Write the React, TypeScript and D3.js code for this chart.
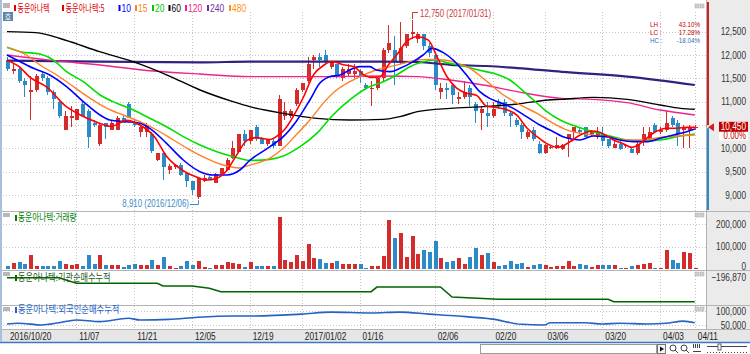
import React from "react";
import * as d3 from "d3";

// date axis ticks (index into the daily series)
const tickIdx = [0, 12, 22, 32, 42, 51, 61, 74, 84, 93, 103, 113, 119];
const tickLabels = ["2016/10/20", "11/07", "11/21", "12/05", "12/19", "2017/01/02", "01/16", "02/06", "02/20", "03/06", "03/20", "04/03", "04/11"];

// daily OHLC, 2016/10/20 .. 2017/04/11
const opens = [
  11900, 11650, 11700, 11450, 11200, 11250, 11600, 11500, 11200, 11000,
  10400, 10650, 10600, 10950, 10800, 10550, 10100, 10550, 10400, 10400,
  10650, 10950, 10550, 10350, 10350, 10300, 9750, 9890, 9540, 9590,
  9640, 9480, 9290, 8960, 9290, 9380, 9260, 9460, 9540, 9790,
  9930, 10300, 10150, 10450, 10200, 10100, 10150, 10050, 10700, 10700,
  10950, 11250, 11450, 11900, 11950, 12000, 11750, 11800, 11500, 11600,
  11600, 11650, 11350, 11300, 11300, 11500, 12100, 12100, 11850, 12200,
  12450, 12350, 12450, 12200, 12000, 11200, 11300, 11350, 11050, 11100,
  11300, 10950, 10750, 10750, 10700, 11000, 11000, 10750, 10600, 10500,
  10250, 10400, 10100, 9890, 10000, 10000, 9980, 10200, 10350, 10400,
  10450, 10300, 10250, 10300, 10200, 10000, 10100, 10050, 9980, 9900,
  10150, 10200, 10500, 10350, 10400, 10650, 10550, 10400, 10400, 10450,
];
const highs = [
  11950, 11800, 11750, 11500, 11550, 11600, 11650, 11550, 11250, 11050,
  10800, 10900, 10850, 11000, 10850, 10600, 10550, 10550, 10600, 10700,
  10700, 11000, 10600, 10500, 10550, 10350, 9910, 9920, 9660, 9670,
  9680, 9500, 9300, 9360, 9420, 9400, 9470, 9580, 9800, 10150,
  10300, 10400, 10400, 10500, 10250, 10200, 10200, 11150, 11000, 10850,
  11300, 11400, 11950, 12000, 12050, 12100, 11850, 11800, 11750, 11800,
  11800, 11700, 11400, 11450, 11500, 12150, 12650, 12400, 12700, 12450,
  12750, 12500, 12450, 12250, 12050, 11400, 11400, 11400, 11200, 11450,
  11350, 11000, 10900, 11000, 11000, 11050, 11050, 10800, 10650, 10550,
  10400, 10450, 10150, 10100, 10050, 10250, 10100, 10300, 10450, 10450,
  10450, 10400, 10450, 10450, 10200, 10150, 10150, 10100, 10000, 10150,
  10450, 10450, 10550, 10450, 10800, 10700, 10600, 10500, 10500, 10500,
];
const lows = [
  11650, 11600, 11400, 11100, 10600, 11200, 11450, 11150, 10850, 10650,
  10400, 10450, 10600, 10700, 10000, 10450, 10050, 10200, 10400, 10400,
  10550, 10650, 10450, 10250, 10250, 9900, 9720, 9320, 9460, 9560,
  9400, 9180, 9000, 8910, 9270, 9320, 9250, 9450, 9520, 9770,
  9910, 10050, 10100, 10150, 10100, 10050, 10000, 10050, 10600, 10650,
  10900, 11200, 11400, 11700, 11750, 11800, 11700, 11500, 11450, 11550,
  11500, 11400, 11250, 10900, 11250, 11450, 12050, 11350, 11800, 12150,
  12350, 12250, 12100, 11950, 11250, 11050, 11050, 10950, 10950, 11050,
  10900, 10550, 10400, 10450, 10650, 10850, 10700, 10450, 10450, 10200,
  10200, 10150, 9870, 9870, 9980, 9980, 9960, 9820, 10200, 10300,
  10250, 10250, 10200, 10050, 10000, 10000, 9960, 10000, 9890, 9850,
  10050, 10200, 10350, 10300, 10350, 10450, 10050, 10000, 10000, 10400,
];
const closes = [
  11700, 11700, 11450, 11350, 11250, 11550, 11500, 11200, 11050, 10700,
  10700, 10700, 10850, 10700, 10250, 10500, 10500, 10450, 10550, 10650,
  10550, 10650, 10500, 10450, 10500, 9940, 9890, 9610, 9620, 9640,
  9430, 9290, 9110, 9360, 9370, 9340, 9460, 9570, 9750, 10000,
  10300, 10150, 10400, 10200, 10100, 10200, 10050, 11050, 10800, 10800,
  11250, 11400, 11800, 11950, 11900, 11850, 11850, 11550, 11700, 11700,
  11650, 11550, 11300, 11300, 11500, 12100, 12250, 11850, 12150, 12450,
  12500, 12450, 12200, 12050, 11350, 11300, 11250, 11150, 11100, 11200,
  11100, 10800, 10850, 10700, 10850, 10900, 10750, 10700, 10500, 10350,
  10350, 10200, 9890, 10070, 10030, 10070, 10070, 10300, 10450, 10350,
  10250, 10350, 10350, 10150, 10050, 10100, 9980, 10080, 9900, 10100,
  10300, 10350, 10350, 10400, 10550, 10500, 10300, 10450, 10450, 10450,
];
const volumes = [
  13000, 25000, 30000, 22000, 62000, 15000, 13000, 15000, 15000, 37000,
  22000, 18000, 22000, 14000, 62000, 22000, 62000, 18000, 18000, 18000,
  10000, 18000, 22000, 18000, 18000, 40000, 18000, 55000, 12000, 5000,
  12000, 37000, 18000, 36000, 10000, 6000, 20000, 20000, 31000, 27000,
  22000, 8000, 29000, 13000, 13000, 14000, 13000, 232000, 40000, 30000,
  62000, 36000, 110000, 50000, 44000, 28000, 28000, 36000, 21000, 21000,
  22000, 22000, 6000, 15000, 15000, 59000, 218000, 136000, 158000, 55000,
  147000, 65000, 84000, 77000, 126000, 48000, 33000, 36000, 48000, 22000,
  52000, 92000, 62000, 70000, 30000, 12000, 20000, 35000, 24000, 27000,
  10000, 16000, 24000, 18000, 8000, 13000, 13000, 37000, 13000, 22000,
  18000, 10000, 20000, 18000, 20000, 20000, 6000, 4000, 15000, 18000,
  22000, 28000, 4000, 6000, 84000, 40000, 28000, 74000, 72000, 5000,
];

// moving averages: [day index, price]
const ma5 = [[0, 11890], [2, 11760], [4, 11520], [7, 11300], [10, 10920], [12.6, 10720], [16, 10540], [18, 10470], [20.7, 10600], [23, 10500], [25.5, 10250], [27.6, 9830], [30.5, 9520], [32.7, 9390], [34.5, 9320], [36.3, 9360], [38, 9520], [39.7, 9850], [41.5, 10170], [43, 10230], [45.5, 10190], [47, 10290], [48, 10400], [49.5, 10680], [51.3, 11100], [53, 11570], [54.8, 11780], [56.2, 11860], [58.2, 11790], [60, 11750], [61.7, 11580], [63, 11520], [64.5, 11530], [66, 11790], [67.4, 12000], [69.2, 12290], [71, 12390], [72.9, 12320], [74.4, 11960], [76.1, 11540], [77.8, 11290], [79.5, 11180], [81.2, 11140], [83, 10900], [85.5, 10860], [88.2, 10710], [90, 10430], [91.7, 10250], [93.4, 10100], [95.3, 10020], [97.4, 10140], [99.1, 10280], [101.4, 10370], [103.2, 10310], [104.9, 10180], [106.6, 10100], [108.1, 10020], [109.2, 10070], [110.6, 10210], [112.3, 10360], [114.1, 10430], [116, 10430], [117.5, 10450], [119, 10450]];
const ma10 = [[0, 12000], [2.3, 11857], [4.6, 11714], [7.4, 11571], [10.3, 11321], [13.2, 11000], [16.1, 10714], [17.8, 10607], [20.7, 10571], [23, 10536], [24.7, 10429], [27.6, 10107], [30.5, 9750], [33.4, 9500], [35.7, 9429], [38, 9429], [40.3, 9536], [42, 9740], [45.5, 10036], [47.8, 10250], [50, 10571], [52.4, 11036], [54.1, 11393], [55.8, 11536], [57.6, 11571], [59.3, 11679], [61, 11750], [62.8, 11750], [63.9, 11679], [66.3, 11643], [68, 11714], [70.3, 11857], [72, 12000], [73.5, 12143], [75.5, 12050], [77.3, 11880], [79.5, 11571], [81.8, 11214], [83.5, 11071], [85.3, 10980], [87.6, 10857], [89.9, 10679], [92.2, 10500], [94.5, 10357], [96.6, 10230], [99.1, 10179], [101.4, 10264], [103.7, 10250], [106, 10179], [108.3, 10143], [110.6, 10143], [113, 10214], [115.3, 10286], [117.6, 10357], [119, 10414]];
const ma15 = [[0, 12164], [3.4, 12000], [5.7, 11786], [8.6, 11571], [11.5, 11321], [14.4, 11071], [17.3, 10857], [20.1, 10714], [23, 10571], [25.9, 10393], [28.8, 10179], [31.7, 9964], [34.5, 9786], [37.4, 9643], [40.3, 9580], [42, 9640], [45.5, 9790], [47.8, 10000], [50, 10286], [52.4, 10607], [54.7, 10964], [57, 11250], [59.3, 11429], [61.7, 11571], [63.9, 11679], [66.3, 11750], [68.6, 11821], [70.9, 11893], [73.2, 11907], [75.5, 11893], [77.5, 11843], [80.1, 11715], [82.4, 11500], [85.9, 11143], [88.8, 10929], [91.7, 10750], [94.5, 10536], [96.6, 10407], [98.6, 10336], [101.4, 10286], [104.3, 10236], [107.2, 10179], [110.1, 10179], [113, 10236], [115.9, 10264], [119, 10286]];
const ma20 = [[0, 12164], [2.3, 12071], [5.7, 12021], [8, 11893], [10.3, 11643], [13.2, 11429], [16.1, 11143], [19, 10964], [21.9, 10821], [24.7, 10643], [27.6, 10464], [30.5, 10250], [33.4, 10071], [36.3, 9929], [39.2, 9821], [42, 9740], [45.5, 9764], [47.8, 9836], [50.7, 10036], [53.6, 10321], [56.4, 10714], [59.3, 11036], [62.2, 11286], [65.1, 11429], [67.4, 11571], [69.7, 11750], [72, 11857], [74, 11893], [76.6, 11821], [79.5, 11750], [81, 11693], [84.2, 11607], [87, 11464], [88.8, 11286], [91.1, 11036], [93.4, 10786], [95.7, 10607], [98.6, 10464], [101.4, 10357], [104.3, 10264], [107.2, 10179], [110.1, 10157], [113, 10179], [115.9, 10250], [119, 10307]];
const ma60 = [[0, 12500], [5, 12480], [10, 12321], [16, 12071], [21.8, 11857], [27.7, 11571], [33.4, 11250], [39.1, 11000], [42, 10893], [47.8, 10750], [53.6, 10643], [59.3, 10607], [65, 10621], [68, 10679], [71, 10786], [76.7, 10857], [82.4, 10893], [88.3, 10950], [93.7, 11036], [96, 11050], [101.4, 11093], [107.3, 11050], [113, 10929], [116.5, 10857], [119, 10836]];
const ma120 = [[0, 12000], [7.4, 11890], [16.1, 11786], [24.7, 11664], [33.4, 11593], [42, 11536], [53.6, 11536], [65, 11550], [71, 11536], [76.7, 11464], [82.4, 11357], [88.3, 11214], [96, 11071], [101.4, 11050], [107.3, 10979], [113, 10821], [119, 10714]];
const ma240 = [[0, 11880], [16, 11860], [33.4, 11840], [42, 11860], [65, 11860], [71, 11850], [76.7, 11790], [83, 11764], [88.3, 11720], [96, 11640], [107.3, 11536], [119, 11357]];

// cumulative net buying: [day index, shares]
const instCum = [[0, -214000], [9, -214000], [12, -270000], [26, -270000], [27, -297000], [32, -297000], [35, -320000], [37, -354000], [63, -354000], [64, -307000], [75, -307000], [77, -407000], [85, -430000], [104, -430000], [105, -454000], [119, -454000]];
const foreignCum = [[0, 53600], [2, 56000], [6, 50000], [9, 58000], [12, 68000], [16, 62000], [21, 74000], [23, 68000], [28, 70000], [33, 77500], [39, 82000], [42, 82000], [51, 89000], [56, 96000], [63, 93000], [68, 96000], [73, 89000], [78, 82000], [84, 71000], [89, 52500], [93, 50000], [94, 58000], [100, 58000], [103, 53600], [106, 56000], [111, 53600], [114, 56000], [117, 64000], [119, 58000]];

const legendLabels = ["동운아나텍", "동운아나텍:5", "10", "15", "20", "60", "120", "240", "480"];
const legendColors = ["#e00000", "#e00000", "#0000ff", "#ff7f27", "#00c800", "#000000", "#f0208c", "#7030a0", "#ff9020"];
const infoLabels = ["LH :", "LC :", "HC :"];
const infoValues = ["43.10%", "17.28%", "-18.04%"];
const infoColors = ["#c00000", "#c00000", "#3070c0"];

const NUM = "'Liberation Sans', Arial, sans-serif";
const KR = "'Noto Sans CJK KR', 'Noto Sans', sans-serif";
const UP = "#d42b2b";
const DOWN = "#2a8bc8";

// the original uses a condensed bitmap font: squeeze text horizontally
function NText(props: any) {
  const { x, y, sx = 0.79, anchor = "start", children, ...rest } = props;
  return (
    <text transform={`translate(${x},${y}) scale(${sx},1)`} textAnchor={anchor} fontFamily={NUM} {...rest}>{children}</text>
  );
}
function KText(props: any) {
  const { x, y, sx = 0.78, children, ...rest } = props;
  return (
    <text transform={`translate(${x},${y}) scale(${sx},1)`} fontFamily={KR} {...rest}>{children}</text>
  );
}

export default function App() {
  const n = closes.length;
  const x = d3.scaleLinear().domain([0, n - 1]).range([7, 694.8]);
  const yP = d3.scaleLinear().domain([9000, 12500]).range([195, 31.67]);
  const yV = d3.scaleLinear().domain([0, 200000]).range([269, 224]);
  const yI = d3.scaleLinear().domain([-196870, -496870]).range([276, 306]);
  const yF = d3.scaleLinear().domain([50000, 100000]).range([325, 311]);

  const maLine = d3.line<number[]>().x(d => x(d[0])).y(d => yP(d[1])).curve(d3.curveMonotoneX);
  const instLine = d3.line<number[]>().x(d => x(d[0])).y(d => yI(d[1]));
  const forLine = d3.line<number[]>().x(d => x(d[0])).y(d => yF(d[1])).curve(d3.curveMonotoneX);

  const priceTicks = d3.range(9000, 12501, 500);
  const fmt = d3.format(",");
  const grid = { stroke: "#c6c6c6", strokeDasharray: "1 2", strokeWidth: 1 };
  const px = (i: number) => Math.round(x(i)) + 0.5;

  const mas = [
    { pts: ma240, color: "#33217e", w: 2.2 },
    { pts: ma120, color: "#f0228c", w: 1.4 },
    { pts: ma60, color: "#000000", w: 1.4 },
    { pts: ma20, color: "#00e000", w: 1.6 },
    { pts: ma15, color: "#ff7f27", w: 1.4 },
    { pts: ma10, color: "#0000ff", w: 1.6 },
    { pts: ma5, color: "#ff0000", w: 1.6 },
  ];

  // legend layout
  const legX = [14, 62, 118.5, 135, 152, 168.5, 185, 207, 229];
  const legS = [0.7, 0.72, 0.85, 0.85, 0.85, 0.85, 0.85, 0.85, 0.85];

  const last = closes[n - 1];
  const lastY = yP(last);

  const panelIcons = (y: number) => (
    <g>
      <rect x={3} y={y} width={7} height={4} fill="#b8b8b8" />
      <rect x={695} y={y} width={4} height={4} fill="#d0d0d0" stroke="#a8a8a8" strokeWidth={0.5} />
      <rect x={700} y={y} width={4} height={4} fill="#d0d0d0" stroke="#a8a8a8" strokeWidth={0.5} />
    </g>
  );

  const infoSx = 0.9;

  return (
    <svg width={750} height={354} style={{ position: "fixed", left: 0, top: 0, background: "#fff" }}>
      <rect x={0} y={0} width={750} height={354} fill="#fff" />
      {/* right axis area */}
      <rect x={707} y={0} width={43} height={330} fill="#ebebeb" />
      <line x1={706.5} x2={706.5} y1={0} y2={330} stroke="#b0b0b0" />

      {/* grid */}
      {priceTicks.map(v => (
        <line key={"pg" + v} x1={3} x2={706} y1={Math.round(yP(v)) + 0.5} y2={Math.round(yP(v)) + 0.5} {...grid} />
      ))}
      {[100000, 200000].map(v => (
        <line key={"vg" + v} x1={3} x2={706} y1={Math.round(yV(v)) + 0.5} y2={Math.round(yV(v)) + 0.5} {...grid} />
      ))}
      <line x1={3} x2={706} y1={311.5} y2={311.5} {...grid} />
      <line x1={3} x2={706} y1={325.5} y2={325.5} {...grid} />
      {tickIdx.slice(1).map(i => (
        <line key={"xg" + i} x1={px(i)} x2={px(i)} y1={12} y2={329} {...grid} />
      ))}

      {/* panel separators */}
      {[211.5, 270.5, 305.5, 329.5].map(y => (
        <line key={"sep" + y} x1={0} x2={750} y1={y} y2={y} stroke="#b4b4b4" />
      ))}

      {/* candles */}
      <g shapeRendering="crispEdges">
        {closes.map((c, i) => {
          const o = opens[i];
          const col = c >= o ? UP : DOWN;
          const top = yP(Math.max(o, c));
          const bot = yP(Math.min(o, c));
          return (
            <g key={"c" + i}>
              <line x1={px(i)} x2={px(i)} y1={yP(highs[i])} y2={yP(lows[i])} stroke={col} strokeWidth={1} />
              <rect x={px(i) - 2} y={top} width={4} height={Math.max(1, bot - top)} fill={col} />
            </g>
          );
        })}
      </g>

      {/* moving averages */}
      {mas.map((m, k) => (
        <path key={"ma" + k} d={maLine(m.pts) || ""} fill="none" stroke={m.color} strokeWidth={m.w} strokeLinejoin="round" />
      ))}

      {/* high / low annotations */}
      <path d={`M${px(70)},${yP(12750) - 1}V12.5H418`} fill="none" stroke="#c83c3c" />
      <NText x={420} y={16.5} fontSize={10} fill="#c83c3c">12,750 (2017/01/31)</NText>
      <path d={`M190,204.5H${px(33)}V${yP(8910) + 1}`} fill="none" stroke="#3c8cc8" />
      <NText x={189} y={206.5} anchor="end" fontSize={10} fill="#3c8cc8">8,910 (2016/12/06)</NText>

      {/* volume bars */}
      <g shapeRendering="crispEdges">
        {volumes.map((v, i) => (
          <rect key={"v" + i} x={px(i) - 2} y={yV(v)} width={4} height={yV(0) - yV(v)} fill={closes[i] >= opens[i] ? UP : DOWN} />
        ))}
      </g>

      {/* cumulative net buying */}
      <path d={instLine(instCum) || ""} fill="none" stroke="#006400" strokeWidth={1.6} />
      <path d={forLine(foreignCum) || ""} fill="none" stroke="#2462c4" strokeWidth={1.6} />

      {/* legend */}
      <rect x={3} y={3} width={7} height={4} fill="#b8b8b8" />
      <rect x={3} y={12} width={10} height={9} fill="#5f82a8" />
      <text x={8} y={19.5} fontFamily={KR} fontSize={7.5} fill="#fff" textAnchor="middle">호</text>
      {legendLabels.map((l, k) => (
        <g key={"lg" + k}>
          <rect x={legX[k]} y={5} width={2} height={6} fill={legendColors[k]} />
          {k < 2 ? (
            <KText x={legX[k] + 3.5} y={11.5} sx={legS[k]} fontSize={10} fill={legendColors[k]}>{l}</KText>
          ) : (
            <NText x={legX[k] + 3} y={11.5} sx={legS[k]} fontSize={10} fill={legendColors[k]}>{l}</NText>
          )}
        </g>
      ))}
      {panelIcons(4)}

      {/* LH LC HC */}
      {infoLabels.map((l, k) => (
        <text key={l} transform={`translate(650,${26.5 + k * 8.2}) scale(${infoSx},1)`} fontFamily={NUM} fontSize={7} fill={infoColors[k]}>
          <tspan x={0}>{l}</tspan>
          <tspan x={50 / infoSx} textAnchor="end">{infoValues[k]}</tspan>
        </text>
      ))}

      {/* panel titles */}
      {panelIcons(213)}
      <rect x={15} y={215} width={2} height={6} fill="#008000" />
      <KText x={18} y={220.5} sx={0.77} fontSize={10} fill="#008000">동운아나텍:거래량</KText>
      {panelIcons(272)}
      <rect x={15} y={275} width={2} height={6} fill="#006400" />
      <KText x={18} y={281} sx={0.82} fontSize={10} fill="#1a5a1a">동운아나텍:기관순매수누적</KText>
      {panelIcons(307)}
      <rect x={15} y={307} width={2} height={6} fill="#2462c4" />
      <KText x={18} y={312.5} sx={0.83} fontSize={10} fill="#2462c4">동운아나텍:외국인순매수누적</KText>

      {/* right axis labels (10,500 sits under the price tag) */}
      <g fill="#333">
        {priceTicks.filter(v => Math.abs(yP(v) - lastY) > 6).map(v => (
          <NText key={"pl" + v} x={746} y={yP(v) + 3.5} anchor="end" fontSize={10.5}>{fmt(v)}</NText>
        ))}
        {[0, 100000, 200000].map(v => (
          <NText key={"vl" + v} x={746} y={yV(v) + (v === 0 ? 0.5 : 3.5)} anchor="end" fontSize={10.5}>{fmt(v)}</NText>
        ))}
        <NText x={746} y={yI(-196870) + 4.5} anchor="end" fontSize={10.5}>{fmt(-196870)}</NText>
        <NText x={746} y={yF(100000) + 3.5} anchor="end" fontSize={10.5}>{fmt(100000)}</NText>
        <NText x={746} y={yF(50000) + 3.5} anchor="end" fontSize={10.5}>{fmt(50000)}</NText>
      </g>

      {/* current price marker */}
      <line x1={708} x2={708} y1={2} y2={lastY - 2} stroke="#d02020" strokeWidth={2} />
      <line x1={708} x2={708} y1={lastY + 1} y2={210} stroke="#2a8bc8" strokeWidth={2} />
      <polygon points={`708,${lastY} 714,${lastY - 4} 714,${lastY + 4}`} fill="#d02020" />
      <rect x={719} y={lastY - 5.5} width={29} height={10} fill="#c00000" />
      <NText x={746} y={lastY + 3} anchor="end" fontSize={10.5} fill="#fff">{fmt(last)}</NText>
      <rect x={719} y={lastY + 4.5} width={29} height={8.5} fill="#fff" />
      <NText x={746} y={lastY + 12} anchor="end" fontSize={10} fill="#c00000">0.00%</NText>

      {/* date axis */}
      <rect x={0} y={330} width={750} height={12} fill="#e6e6e6" />
      <g fill="#222">
        {tickIdx.map((i, k) => (
          <NText key={"dl" + i} x={x(i) + 3} y={340} fontSize={10.5}>{tickLabels[k]}</NText>
        ))}
      </g>
      <line x1={0} x2={750} y1={342.5} y2={342.5} stroke="#3c78c8" strokeWidth={1.5} />
      <rect x={0} y={0} width={2} height={342} fill="#a8c0dc" />

      {/* scroll bar controls */}
      <rect x={480.5} y={344.5} width={176} height={9} fill="#fff" stroke="#9a9a9a" />
      <rect x={657.5} y={344.5} width={8} height={9} fill="#f4f4f4" stroke="#777" />
      <polygon points="660,346.5 664,349 660,351.5" fill="#111" />
      <circle cx={673} cy={348} r={3} fill="none" stroke="#444" />
      <line x1={675} y1={350} x2={678} y2={353} stroke="#444" />
      <circle cx={684} cy={348} r={3} fill="none" stroke="#444" />
      <line x1={686} y1={350} x2={689} y2={353} stroke="#444" />
      <g stroke="#444">
        <line x1={693.5} x2={693.5} y1={344} y2={348} />
        <line x1={695.5} x2={695.5} y1={344} y2={348} />
        <line x1={697.5} x2={697.5} y1={344} y2={348} />
        <line x1={699.5} x2={699.5} y1={344} y2={348} />
        <line x1={693} x2={701} y1={351.5} y2={351.5} />
        <line x1={707} x2={747} y1={346.5} y2={346.5} />
        <line x1={707} x2={747} y1={352.5} y2={352.5} strokeDasharray="1 2" />
      </g>
      <rect x={718} y={344} width={3} height={6} fill="#fff" stroke="#444" strokeWidth={0.8} />
    </svg>
  );
}
